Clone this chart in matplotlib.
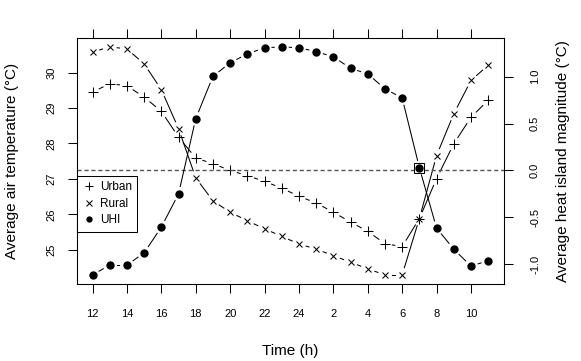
import numpy as np
import matplotlib.pyplot as plt
from matplotlib.lines import Line2D

plt.rcParams['font.family'] = ['Liberation Sans', 'DejaVu Sans']
plt.rcParams['axes.unicode_minus'] = False

# hours of the day, starting at noon
hours = [12, 13, 14, 15, 16, 17, 18, 19, 20, 21, 22, 23,
         0, 1, 2, 3, 4, 5, 6, 7, 8, 9, 10, 11]
hour_labels = ['12', '14', '16', '18', '20', '22', '24', '2', '4', '6', '8', '10']

urban = [29.45, 29.69, 29.63, 29.31, 28.91, 28.18, 27.59, 27.43, 27.24, 27.09, 26.93, 26.74,
         26.51, 26.32, 26.06, 25.78, 25.52, 25.17, 25.09, 25.88, 27.01, 27.99, 28.74, 29.22]
rural = [30.58, 30.73, 30.67, 30.25, 29.52, 28.42, 27.03, 26.38, 26.06, 25.82, 25.59, 25.38,
         25.16, 25.02, 24.83, 24.65, 24.46, 24.29, 24.29, 25.88, 27.66, 28.84, 29.78, 30.21]
uhi = [-1.115, -1.01, -1.01, -0.88, -0.605, -0.25, 0.553, 1.005, 1.149, 1.245, 1.309, 1.32,
       1.309, 1.27, 1.213, 1.091, 1.031, 0.871, 0.774, 0.03, -0.616, -0.84, -1.022, -0.963]

temp_ticks = [25, 26, 27, 28, 29, 30]
uhi_ticks = [-1.0, -0.5, 0.0, 0.5, 1.0]

x = np.arange(len(hours))


def padded(v):
    lo, hi = min(v), max(v)
    p = 0.04 * (hi - lo)
    return lo - p, hi + p


def gapped_lines(axis, xs, ys, gap=7.5):
    # R style type="b": segments stop short of the points
    pts = axis.transData.transform(np.column_stack([xs, ys]))
    inv = axis.transData.inverted()
    for p0, p1 in zip(pts[:-1], pts[1:]):
        d = p1 - p0
        L = np.hypot(*d)
        if L <= 2 * gap:
            continue
        u = d / L
        a, b = inv.transform(np.array([p0 + u * gap, p1 - u * gap]))
        axis.plot([a[0], b[0]], [a[1], b[1]], color='black', lw=0.75)


fig = plt.figure(figsize=(5.81, 3.61), dpi=100)
ax = fig.add_axes([76.7 / 581, (361 - 284) / 361, (504 - 76.7) / 581, (284 - 37.7) / 361])
ax2 = ax.twinx()

ax.set_xlim(padded(x))
ax.set_ylim(padded(urban + rural))
ax2.set_ylim(padded(uhi))

ax2.axhline(0, color='#555555', ls=(0, (3, 2)), lw=1.0)

gapped_lines(ax, x, urban)
gapped_lines(ax, x, rural)
gapped_lines(ax2, x, uhi)

ax.plot(x, urban, '+', color='black', ms=6.5, mew=0.75)
ax.plot(x, rural, 'x', color='black', ms=5, mew=0.75)
ax2.plot(x, uhi, 'o', color='black', ms=5)
same = int(np.argmin(np.abs(np.array(urban) - np.array(rural))))
ax2.plot(x[same], uhi[same], 's', mfc='none', mec='black', ms=7.2, mew=0.75)

for a in (ax, ax2):
    for s in a.spines.values():
        s.set_linewidth(0.75)

ax.set_xticks(x[::2])
ax.set_xticklabels(hour_labels)
ax.xaxis.set_ticks_position('both')
ax.tick_params(axis='x', direction='out', length=6.8, width=0.75, labelsize=8, pad=11)

ax.set_yticks(temp_ticks)
ax.tick_params(axis='y', direction='out', length=6.8, width=0.75, labelsize=8, pad=7.5,
               labelrotation=90)
for lbl in ax.get_yticklabels():
    lbl.set_va('center')

ax2.set_yticks(uhi_ticks)
ax2.set_yticklabels(['%.1f' % t for t in uhi_ticks])
ax2.tick_params(axis='y', direction='out', length=6.8, width=0.75, labelsize=8, pad=12,
                labelrotation=90)
for lbl in ax2.get_yticklabels():
    lbl.set_va('center')

ax.set_xlabel('Time (h)', fontsize=11, va='center')
ax.xaxis.set_label_coords(0.5, -0.272)
ax.set_ylabel('Average air temperature (°C)', fontsize=11, va='center')
ax.yaxis.set_label_coords(-0.151, 0.5)
ax2.set_ylabel('Average heat island magnitude (°C)', fontsize=11, va='center', rotation=90)
ax2.yaxis.set_label_coords(1.138, 0.5)

handles = [Line2D([], [], ls='none', marker='+', color='black', ms=6, mew=0.75),
           Line2D([], [], ls='none', marker='x', color='black', ms=4.5, mew=0.75),
           Line2D([], [], ls='none', marker='o', color='black', ms=3.5)]
leg = ax2.legend(handles, ['Urban', 'Rural', 'UHI'], loc='upper left',
                 bbox_to_anchor=(0, 0.4397), borderaxespad=0, fontsize=8.5,
                 fancybox=False, edgecolor='black', framealpha=1,
                 borderpad=0.45, handlelength=1.2, handletextpad=0.3, labelspacing=0.4)
leg.get_frame().set_linewidth(0.75)

fig.savefig('out.png', dpi=100)
